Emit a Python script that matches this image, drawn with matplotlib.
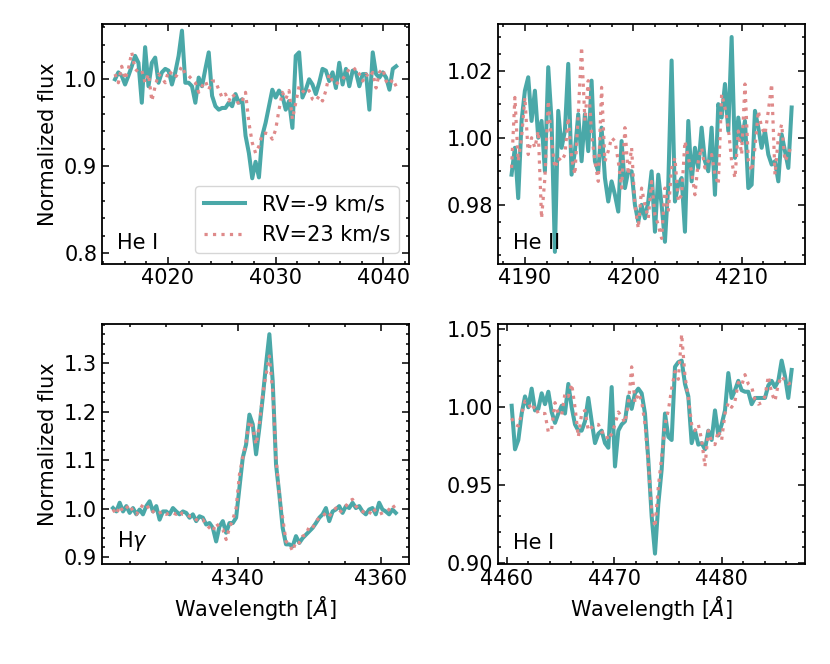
import numpy as np
import matplotlib
matplotlib.use("Agg")
import matplotlib.pyplot as plt
from matplotlib.ticker import AutoMinorLocator, MultipleLocator

# He I 4026 region
w_hei1 = np.linspace(4015.1, 4041.2, 85)
f_hei1_a = [1.000, 1.008, 1.004, 0.994, 1.004, 1.015, 1.027, 1.019, 0.973, 1.037,
            0.992, 1.019, 1.025, 0.996, 1.008, 1.012, 1.010, 0.994, 1.008, 1.027,
            1.056, 0.996, 0.996, 0.992, 0.973, 1.002, 0.992, 1.012, 1.031, 0.981,
            0.969, 0.965, 0.967, 0.967, 0.973, 0.969, 0.983, 0.973, 0.977, 0.935,
            0.915, 0.886, 0.905, 0.887, 0.935, 0.950, 0.969, 0.988, 0.979, 0.987,
            0.981, 0.965, 0.975, 0.944, 1.027, 1.031, 0.979, 0.988, 1.000, 0.994,
            0.983, 0.996, 1.012, 1.010, 0.998, 1.008, 0.990, 1.019, 0.994, 1.012,
            0.992, 1.010, 1.008, 0.992, 1.006, 1.006, 0.965, 1.031, 1.006, 1.002,
            1.008, 1.002, 0.988, 1.012, 1.015]
f_hei1_b = [1.006, 0.996, 1.015, 1.000, 1.012, 1.031, 1.012, 1.008, 1.010, 0.996,
            1.006, 0.975, 0.992, 1.006, 1.002, 0.996, 1.010, 1.006, 1.002, 1.008,
            1.015, 1.006, 1.004, 1.000, 0.996, 0.985, 0.992, 0.998, 0.988, 0.998,
            0.998, 0.988, 0.979, 0.983, 0.975, 0.983, 0.979, 0.971, 0.975, 0.985,
            0.950, 0.927, 0.915, 0.923, 0.937, 0.938, 0.937, 0.931, 0.942, 0.965,
            0.985, 0.977, 0.987, 0.954, 0.973, 0.992, 0.987, 0.983, 0.987, 0.977,
            0.975, 0.981, 0.975, 0.987, 1.006, 0.998, 0.994, 0.998, 1.000, 1.006,
            1.012, 1.010, 1.013, 1.006, 0.998, 1.006, 1.002, 1.008, 0.990, 1.008,
            1.012, 0.998, 0.994, 1.000, 0.992]

# He II 4200 region
w_heii = np.linspace(4188.77, 4214.6, 85)
f_heii_a = [0.989, 0.997, 0.982, 1.005, 1.014, 1.018, 1.005, 1.014, 1.000, 1.005,
            0.990, 1.021, 1.005, 0.966, 1.008, 0.997, 1.002, 1.022, 0.989, 0.996,
            1.007, 0.993, 1.007, 0.996, 1.017, 0.993, 0.990, 1.003, 0.988, 0.981,
            0.987, 0.983, 0.978, 0.999, 0.985, 0.990, 0.990, 0.980, 0.975, 0.980,
            0.976, 0.981, 0.990, 0.972, 0.989, 0.980, 0.969, 0.986, 1.023, 0.981,
            0.986, 0.988, 0.972, 1.005, 0.987, 0.997, 0.991, 1.003, 0.993, 0.990,
            1.003, 0.983, 1.010, 1.006, 1.016, 1.002, 1.030, 0.994, 1.006, 0.999,
            1.005, 0.985, 0.986, 1.008, 1.003, 0.997, 1.002, 0.995, 0.992, 0.993,
            0.987, 1.001, 0.996, 0.991, 1.009]
f_heii_b = [0.991, 1.012, 0.993, 1.000, 1.012, 0.995, 1.000, 0.997, 1.002, 0.976,
            0.988, 1.011, 0.999, 0.991, 0.994, 0.993, 0.995, 1.006, 0.994, 0.989,
            1.007, 1.027, 1.005, 1.017, 1.001, 0.993, 0.987, 1.015, 0.993, 0.996,
            1.000, 0.999, 0.993, 0.985, 1.003, 0.989, 0.997, 0.980, 0.973, 0.985,
            0.980, 0.976, 0.987, 0.977, 0.974, 0.970, 0.985, 0.978, 0.991, 0.994,
            0.981, 0.983, 0.999, 0.994, 0.990, 0.983, 0.993, 0.997, 0.991, 0.993,
            0.995, 0.989, 0.986, 1.013, 1.009, 1.003, 0.993, 0.988, 1.002, 0.995,
            1.016, 0.993, 0.990, 0.997, 1.008, 1.003, 1.001, 1.008, 1.016, 0.989,
            1.000, 1.004, 0.993, 0.995, 0.998]

# H gamma region
w_hg = np.linspace(4322.56, 4362.09, 86)
f_hg_a = [1.001, 0.994, 1.012, 0.994, 1.005, 0.991, 1.001, 0.988, 0.998, 0.988,
          1.005, 1.015, 0.994, 1.005, 0.977, 0.994, 0.994, 0.988, 1.001, 0.994,
          0.988, 0.994, 0.991, 0.981, 0.988, 0.974, 0.984, 0.981, 0.967, 0.970,
          0.960, 0.932, 0.963, 0.974, 0.950, 0.970, 0.970, 0.981, 1.043, 1.105,
          1.132, 1.194, 1.174, 1.112, 1.167, 1.229, 1.298, 1.360, 1.263, 1.091,
          1.029, 0.960, 0.926, 0.926, 0.922, 0.943, 0.929, 0.939, 0.946, 0.953,
          0.960, 0.970, 0.981, 0.988, 1.001, 0.974, 0.994, 0.998, 1.005, 0.991,
          1.005, 1.001, 1.012, 1.001, 1.005, 0.994, 0.988, 0.998, 1.001, 0.988,
          1.012, 0.998, 0.994, 0.988, 0.998, 0.991]
f_hg_b = [0.998, 0.988, 1.005, 0.994, 1.001, 1.008, 0.994, 0.988, 0.998, 1.008,
          1.001, 1.005, 0.994, 0.988, 0.991, 0.994, 0.988, 0.991, 0.991, 0.988,
          0.994, 0.988, 0.988, 0.984, 0.984, 0.977, 0.974, 0.977, 0.967, 0.960,
          0.953, 0.970, 0.960, 0.957, 0.936, 0.960, 0.977, 1.001, 1.070, 1.105,
          1.139, 1.181, 1.167, 1.132, 1.174, 1.236, 1.277, 1.315, 1.243, 1.105,
          1.029, 0.981, 0.932, 0.926, 0.912, 0.932, 0.929, 0.943, 0.946, 0.963,
          0.960, 0.974, 0.981, 0.984, 0.991, 0.984, 0.994, 1.001, 0.991, 0.998,
          1.005, 1.015, 1.019, 1.005, 0.998, 0.994, 0.991, 0.988, 1.001, 0.994,
          0.988, 0.991, 0.994, 0.998, 1.008, 0.998]

# He I 4471 region
w_hei2 = np.linspace(4460.48, 4486.5, 85)
f_hei2_a = [1.001, 0.973, 0.979, 0.996, 1.007, 1.000, 1.012, 0.998, 0.999, 1.009,
            1.002, 1.010, 0.997, 0.990, 0.996, 1.001, 0.996, 1.015, 1.000, 0.989,
            0.985, 0.985, 0.991, 1.006, 0.991, 0.977, 0.983, 0.985, 0.977, 0.974,
            1.013, 0.962, 0.985, 0.989, 0.991, 1.007, 0.999, 1.009, 1.012, 1.009,
            0.996, 0.966, 0.930, 0.906, 0.938, 0.960, 0.996, 0.981, 0.979, 1.026,
            1.029, 1.030, 1.015, 1.007, 0.977, 0.985, 0.976, 0.977, 0.973, 0.985,
            0.979, 0.998, 0.982, 0.989, 0.998, 1.022, 1.006, 1.011, 1.017, 1.011,
            1.010, 1.010, 1.002, 1.006, 1.006, 1.006, 1.006, 1.014, 1.017, 1.013,
            1.017, 1.030, 1.020, 1.006, 1.024]
f_hei2_b = [0.993, 0.989, 0.988, 0.996, 1.004, 1.003, 0.998, 1.001, 0.996, 0.996,
            0.996, 0.984, 0.986, 1.003, 0.996, 0.995, 1.009, 1.007, 1.015, 1.000,
            0.981, 0.996, 0.998, 0.985, 0.987, 0.989, 0.989, 0.984, 0.984, 0.979,
            0.983, 0.989, 0.997, 0.994, 0.990, 1.002, 1.026, 1.003, 1.009, 1.004,
            0.989, 0.964, 0.934, 0.923, 0.949, 0.968, 0.989, 0.998, 1.012, 1.023,
            1.018, 1.047, 1.020, 1.006, 0.989, 0.985, 0.989, 0.979, 0.962, 0.985,
            0.978, 0.976, 0.985, 0.979, 0.996, 1.003, 1.000, 1.004, 1.016, 1.014,
            1.021, 1.015, 1.013, 1.005, 1.002, 1.003, 1.007, 1.020, 1.009, 1.004,
            1.015, 1.020, 1.017, 1.015, 1.016]

labels = ["RV=-9 km/s", "RV=23 km/s"]
c_a = "#4aa8a8"
c_b = "#df8a8a"

plt.rcParams["font.size"] = 15

fig, axes = plt.subplots(2, 2, figsize=(8.3, 6.64), dpi=100)
fig.subplots_adjust(left=0.123, right=0.970, bottom=0.151, top=0.964,
                    wspace=0.29, hspace=0.252)

panels = [
    (axes[0, 0], w_hei1, f_hei1_a, f_hei1_b, "He I", (4013.9, 4042.4), (0.7877, 1.0638), 0.1),
    (axes[0, 1], w_heii, f_heii_a, f_heii_b, "He II", (4187.53, 4215.84), (0.9625, 1.0339), 0.02),
    (axes[1, 0], w_hg, f_hg_a, f_hg_b, r"H$\gamma$", (4321.03, 4363.95), (0.886, 1.381), 0.1),
    (axes[1, 1], w_hei2, f_hei2_a, f_hei2_b, "He I", (4459.22, 4487.75), (0.8995, 1.0535), 0.05),
]

for ax, w, fa, fb, name, xl, yl, ystep in panels:
    ax.plot(w, fa, color=c_a, lw=2.9, label=labels[0])
    ax.plot(w, fb, color=c_b, lw=2.3, ls=":", label=labels[1])
    ax.set_xlim(xl)
    ax.set_ylim(yl)
    ax.text(0.05, 0.045, name, transform=ax.transAxes, ha="left", va="bottom")
    ax.yaxis.set_major_locator(MultipleLocator(ystep))
    ax.xaxis.set_minor_locator(AutoMinorLocator())
    ax.yaxis.set_minor_locator(AutoMinorLocator())
    ax.tick_params(which="both", direction="in", top=True, right=True, width=1.1)
    ax.tick_params(which="major", length=5)
    ax.tick_params(which="minor", length=2.5)
    for s in ax.spines.values():
        s.set_linewidth(1.3)

axes[1, 0].set_xticks([4340, 4360])
axes[1, 0].xaxis.set_minor_locator(MultipleLocator(5))
axes[0, 0].legend(loc="lower right", handlelength=2.0)

for ax in axes[:, 0]:
    ax.set_ylabel("Normalized flux")
for ax in axes[1, :]:
    ax.set_xlabel(r"Wavelength [$Å$]")

plt.savefig("out.png", dpi=100)
